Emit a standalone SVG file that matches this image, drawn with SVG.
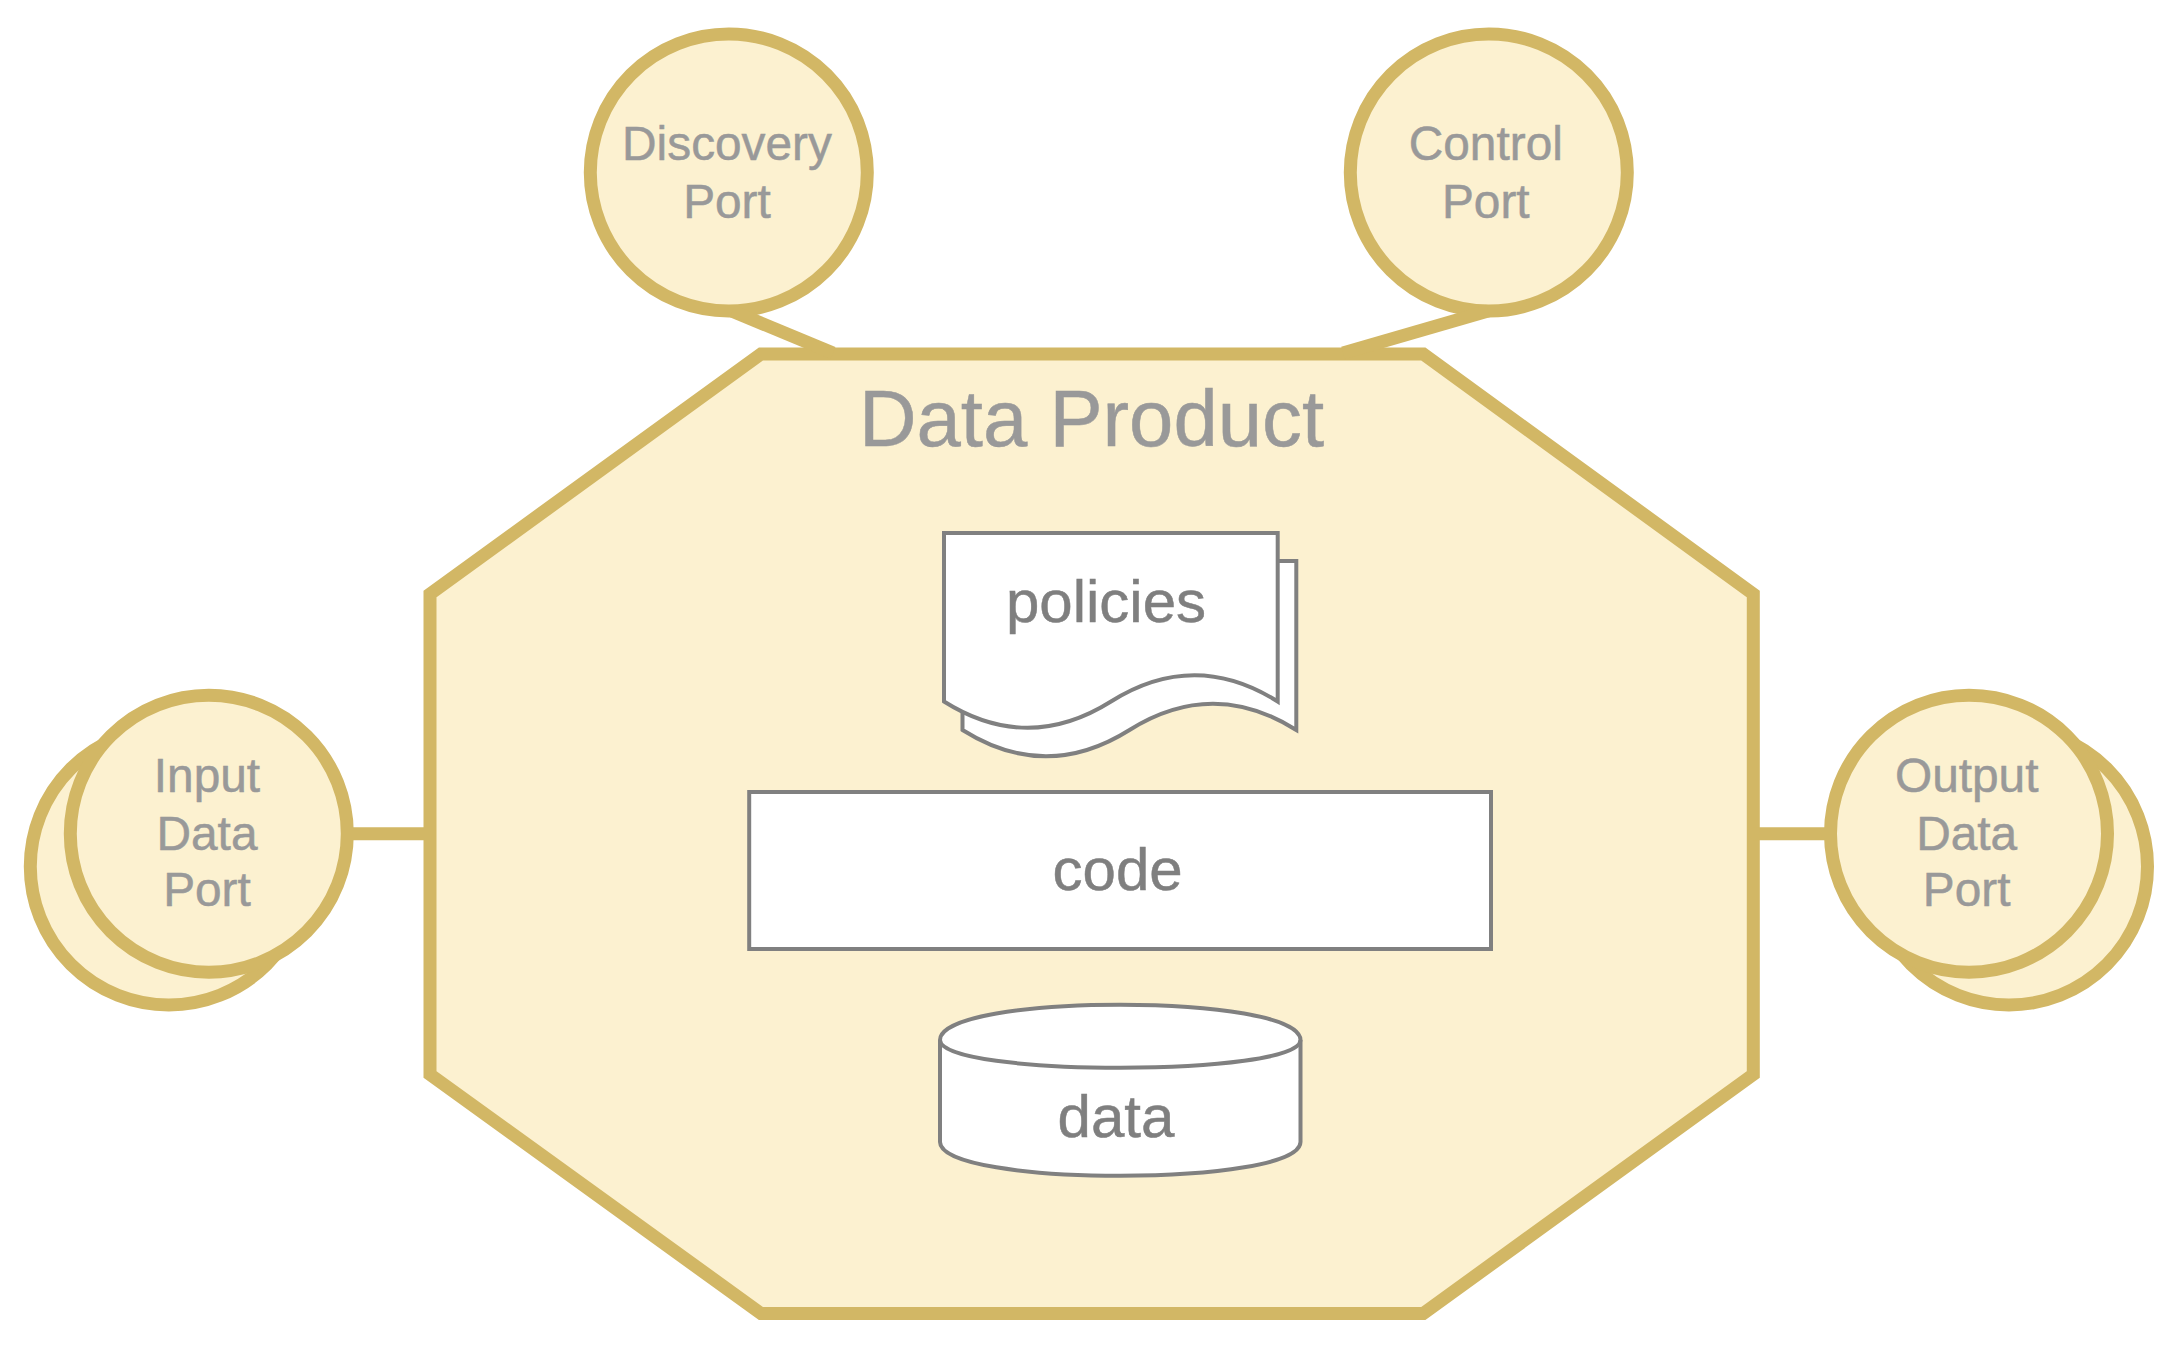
<svg xmlns="http://www.w3.org/2000/svg" width="2184" height="1370" viewBox="0 0 2184 1370">
<style>
.g{fill:#fcf1d0;stroke:#d2b765;stroke-width:13}
.w{fill:#fff;stroke:#808080;stroke-width:4}
.n{fill:none;stroke:#808080;stroke-width:4}
.c{fill:none;stroke:#d2b765;stroke-width:13}
text{font-family:"Liberation Sans",Arial,Helvetica,sans-serif;text-anchor:middle}
.p{font-size:47.800px;fill:#999;stroke:#999;stroke-width:.5}
.i{font-size:60px;fill:#7f7f7f;stroke:#7f7f7f;stroke-width:.5}
.t{font-size:79.700px;fill:#999;stroke:#999;stroke-width:.5}
</style>
<rect width="2184" height="1370" fill="#fff"/>
<g id="data-product">
<polygon class="g" points="761,354 1423.300,354 1753.300,594 1753.300,1074.500 1423.300,1313.500 761,1313.500 430,1074.500 430,594"/>
<text class="t" x="1091.500" y="445.500">Data Product</text>
</g>
<g id="policies">
<path class="w" d="M962.500 561H1296.300V730Q1213 677.500 1129.500 730T962.500 730Z"/>
<path class="w" d="M944 533H1277.700V701.500Q1194.500 649 1111 701.500T944 701.500Z"/>
<text class="i" x="1106" y="622">policies</text>
</g>
<g id="code">
<rect class="w" x="749.200" y="792" width="741.800" height="157"/>
<text class="i" x="1117.600" y="890">code</text>
</g>
<g id="data">
<path class="w" d="M940 1040C940 993 1300.500 993 1300.500 1040V1142C1300.500 1187 940 1187 940 1142Z"/>
<path class="n" d="M940 1040C940 1077 1300.500 1077 1300.500 1040"/>
<text class="i" x="1116" y="1137.300">data</text>
</g>
<g id="discovery-port">
<circle class="g" cx="728.800" cy="172.500" r="138.500"/>
<text class="p" x="727" y="160">Discovery</text>
<text class="p" x="727" y="218">Port</text>
</g>
<g id="control-port">
<circle class="g" cx="1488.800" cy="172.500" r="138.500"/>
<text class="p" x="1485.800" y="160">Control</text>
<text class="p" x="1485.800" y="218">Port</text>
</g>
<g id="input-data-port">
<circle class="g" cx="168.800" cy="866.500" r="138.500"/>
<circle class="g" cx="208.800" cy="833.700" r="138.500"/>
<text class="p" x="207" y="792">Input</text>
<text class="p" x="207" y="850">Data</text>
<text class="p" x="207" y="906">Port</text>
</g>
<g id="output-data-port">
<circle class="g" cx="2009" cy="866.500" r="138.500"/>
<circle class="g" cx="1969" cy="833.700" r="138.500"/>
<text class="p" x="1966.700" y="792">Output</text>
<text class="p" x="1966.700" y="850">Data</text>
<text class="p" x="1966.700" y="906">Port</text>
</g>
<g id="connectors">
<line class="c" x1="732.300" y1="311.200" x2="833" y2="353"/>
<line class="c" x1="1488" y1="311" x2="1343" y2="353"/>
<line class="c" x1="350" y1="833.700" x2="430" y2="833.700"/>
<line class="c" x1="1753" y1="833.700" x2="1828" y2="833.700"/>
</g>
</svg>
